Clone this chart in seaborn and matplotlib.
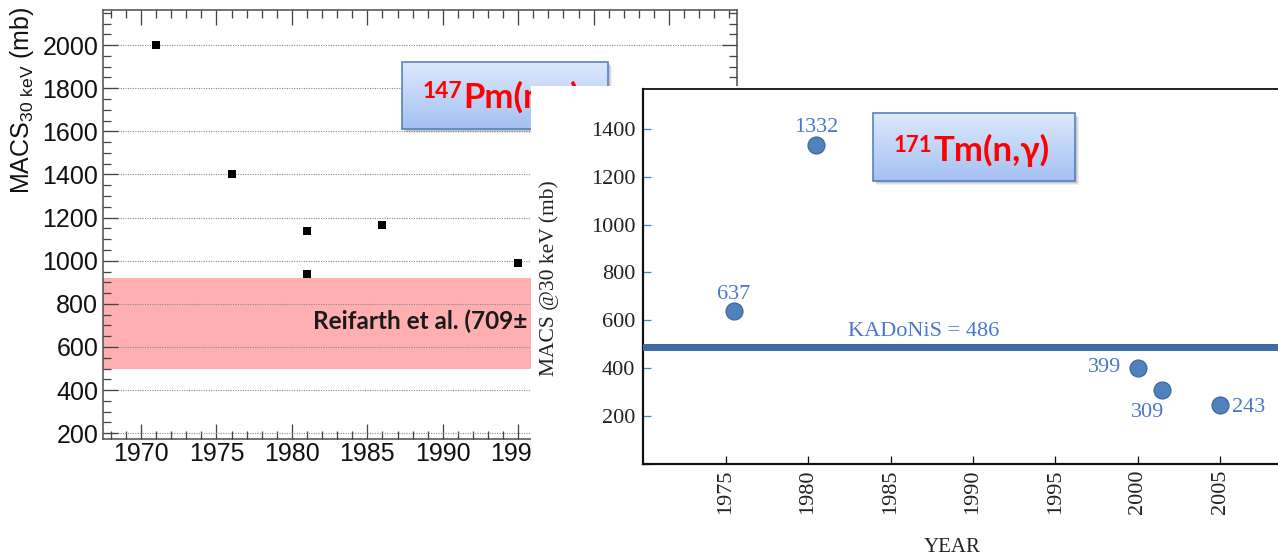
import numpy as np
import matplotlib
matplotlib.use("Agg")
import matplotlib.pyplot as plt
import seaborn as sns
from matplotlib.patches import Rectangle
from matplotlib.ticker import MultipleLocator, FixedLocator
from matplotlib.colors import LinearSegmentedColormap

# ---------------- data ----------------
# 147Pm(n,gamma) MACS at 30 keV
pm_year = [1971, 1976, 1981, 1981, 1986, 1995]
pm_macs = [2000, 1400, 1140, 940, 1165, 990]
reifarth_value = 709
reifarth_err = 210
pm_yticks = [200, 400, 600, 800, 1000, 1200, 1400, 1600, 1800, 2000]
pm_xticks = [1970, 1975, 1980, 1985, 1990, 1995, 2000, 2005]

# 171Tm(n,gamma) MACS at 30 keV
tm_year = [1975.5, 1980.5, 2000.0, 2001.5, 2005.0]
tm_macs = [637, 1332, 399, 309, 243]
kadonis_value = 486
tm_yticks = [0, 200, 400, 600, 800, 1000, 1200, 1400]
tm_ytick_labels = ["", "200", "400", "600", "800", "1000", "1200", "1400"]
tm_xticks = [1975, 1980, 1985, 1990, 1995, 2000, 2005]

# ---------------- style ----------------
sns.set_style("ticks")
plt.rcParams["font.family"] = ["Liberation Sans", "DejaVu Sans"]
plt.rcParams["mathtext.default"] = "regular"

W, H = 1278, 559
DPI = 100
fig = plt.figure(figsize=(W / DPI, H / DPI), dpi=DPI)
fig.patch.set_facecolor("white")


def fx(x):
    return x / W


def fy(y):
    return 1 - y / H


def pt(px):
    return px * 72.0 / DPI


SHEET_X, SHEET_Y = 531.0, 85.7

# ---------------- left panel: 147Pm ----------------
L, R, T, B = 103.3, 737.0, 9.5, 439.3
ax1 = fig.add_axes([fx(L), fy(B), (R - L) / W, (B - T) / H])
ax1.set_zorder(0)
ax1.set_xlim(1967.5, 2009.5)
ax1.set_ylim(172, 2165)

ax1.axhspan(reifarth_value - reifarth_err, reifarth_value + reifarth_err,
            color="#ffafaf", lw=0, zorder=0.5)
sns.scatterplot(x=pm_year, y=pm_macs, marker="s", s=32, color="black",
                linewidth=0, ax=ax1, zorder=4, legend=False)

ax1.set_axisbelow(False)
ax1.yaxis.set_major_locator(FixedLocator(pm_yticks))
ax1.yaxis.set_minor_locator(MultipleLocator(50))
ax1.xaxis.set_major_locator(FixedLocator(pm_xticks))
ax1.xaxis.set_minor_locator(MultipleLocator(1))
ax1.set_yticklabels([str(v) for v in pm_yticks])
ax1.set_xticklabels([str(v) for v in pm_xticks])
ax1.yaxis.grid(True, which="major", linestyle=(0, (1, 1.2)), color="#8a8a8a", lw=0.8)
ax1.tick_params(which="both", direction="in", top=True, right=True,
                labeltop=False, labelright=False, color="#444444",
                labelsize=18, labelcolor="#111111", width=pt(1.3))
ax1.tick_params(which="major", length=pt(15))
ax1.tick_params(which="minor", length=pt(8))
ax1.tick_params(axis="y", pad=pt(5))
ax1.tick_params(axis="x", pad=pt(3))
for sp in ax1.spines.values():
    sp.set_color("#555555")
    sp.set_linewidth(pt(1.6))
ax1.set_xlabel("")
ax1.set_ylabel("")

# band caption; its tail runs under the second chart's sheet
reif = ax1.text(1981.4, reifarth_value + 10, f"Reifarth et al. ({reifarth_value}\u00b1",
                family=["Lato", "DejaVu Sans"], fontweight="bold", fontsize=17.5,
                color="#1a1a1a", ha="left", va="center", zorder=5)
reif.set_clip_path(Rectangle((0, 0), fx(SHEET_X), 1, transform=fig.transFigure))

fig.text(fx(22), fy(7), "MACS$_{30\\ keV}$ (mb)", rotation=90, ha="center",
         va="top", fontsize=18, color="#111111")


# ---------------- title boxes ----------------
grad_cmap = LinearSegmentedColormap.from_list("box", ["#a4c1f2", "#dde9fc"])


def title_box(x0, y0, x1, y1, z):
    for k, a in enumerate([0.10, 0.08, 0.06]):
        off = 2 + k
        fig.add_artist(Rectangle((fx(x0 + off), fy(y1 + off)), (x1 - x0) / W, (y1 - y0) / H,
                                 transform=fig.transFigure, fc="black", ec="none",
                                 alpha=a, zorder=z - 0.05))
    axb = fig.add_axes([fx(x0), fy(y1), (x1 - x0) / W, (y1 - y0) / H])
    axb.imshow(np.linspace(0, 1, 64).reshape(-1, 1), aspect="auto",
               extent=[0, 1, 0, 1], cmap=grad_cmap, origin="lower")
    axb.set_axis_off()
    axb.add_patch(Rectangle((0, 0), 1, 1, transform=axb.transAxes, fill=False,
                            ec="#4f81bd", lw=pt(1.6), clip_on=False))
    axb.set_zorder(z)
    return axb


def iso_label(x_px, base_px, sup, main, size_main, size_sup, raise_px, z):
    fam = ["Lato", "DejaVu Sans"]
    t1 = fig.text(fx(x_px), fy(base_px - raise_px), sup, fontsize=size_sup,
                  color="#ff0000", fontweight="bold", family=fam,
                  ha="left", va="baseline", zorder=z)
    fig.canvas.draw()
    bb = t1.get_window_extent(fig.canvas.get_renderer())
    t2 = fig.text(bb.x1 / W + 1.0 / W, fy(base_px), main, fontsize=size_main,
                  color="#ff0000", fontweight="bold", family=fam,
                  ha="left", va="baseline", zorder=z)
    return t1, t2


title_box(401.7, 61.7, 608.3, 129.0, 1.2)
iso_label(422.7, 108.3, "147", "Pm(n,\u03b3)", 25, 16.5, 10, 1.3)

# white sheet holding the second chart
fig.add_artist(Rectangle((fx(SHEET_X), 0), 1 - fx(SHEET_X), fy(SHEET_Y),
                         transform=fig.transFigure, fc="white", ec="none", zorder=2))

# ---------------- right panel: 171Tm ----------------
L2, R2, T2, B2 = 643.3, 1302.5, 89.3, 463.5
ax2 = fig.add_axes([fx(L2), fy(B2), (R2 - L2) / W, (B2 - T2) / H])
ax2.set_zorder(3)
ax2.set_xlim(1970, 2010)
ax2.set_ylim(0, 1566)

ax2.axhline(kadonis_value, color="#3f6aa6", lw=pt(7), zorder=3)
sns.scatterplot(x=tm_year, y=tm_macs, s=150, color="#4f81bd", edgecolor="#3b6497",
                linewidth=0.8, ax=ax2, zorder=4, legend=False)

serif = ["Liberation Serif", "DejaVu Serif"]
blue_txt = "#4a77c9"
label_offsets = [(0, 17), (0, 18), (-33, 1), (-15, -22.6), (29, -2)]
for xv, yv, (dx, dy) in zip(tm_year, tm_macs, label_offsets):
    ax2.annotate(str(yv), (xv, yv), xytext=(pt(dx), pt(dy)), textcoords="offset points",
                 ha="center", va="center", fontsize=16, color=blue_txt, family=serif,
                 zorder=5)
ax2.annotate(f"KADoNiS = {kadonis_value}", (1987.0, kadonis_value), xytext=(0, pt(16)),
             textcoords="offset points", ha="center", va="center", fontsize=16,
             color=blue_txt, family=serif, zorder=5)

ax2.xaxis.set_major_locator(FixedLocator(tm_xticks))
ax2.set_xticklabels([str(v) for v in tm_xticks], rotation=90, family=serif)
ax2.yaxis.set_major_locator(FixedLocator(tm_yticks))
ax2.set_yticklabels(tm_ytick_labels, family=serif)
ax2.tick_params(axis="x", direction="in", length=pt(8), width=pt(1.3), color="#111111",
                labelsize=16, labelcolor="#222222", pad=pt(6))
ax2.tick_params(axis="y", direction="in", length=pt(8), width=pt(1.3), color="#4f81bd",
                labelsize=16, labelcolor="#222222", pad=pt(8))
for sp in ax2.spines.values():
    sp.set_color("#111111")
    sp.set_linewidth(pt(2.2))
ax2.spines["top"].set_linewidth(pt(1.8))
ax2.set_xlabel("")
ax2.set_ylabel("")

fig.text(fx(549), fy(278), "MACS @30 keV (mb)", rotation=90, ha="center", va="center",
         fontsize=15.5, family=serif, color="#222222", zorder=5)
fig.text(fx(952), fy(548), "YEAR", ha="center", va="center", fontsize=15,
         family=serif, color="#222222", zorder=5)

title_box(872.6, 113.3, 1075.3, 180.7, 6)
iso_label(893.5, 161.0, "171", "Tm(n,\u03b3)", 25, 16, 9, 7)

fig.savefig("out.png", dpi=DPI)
